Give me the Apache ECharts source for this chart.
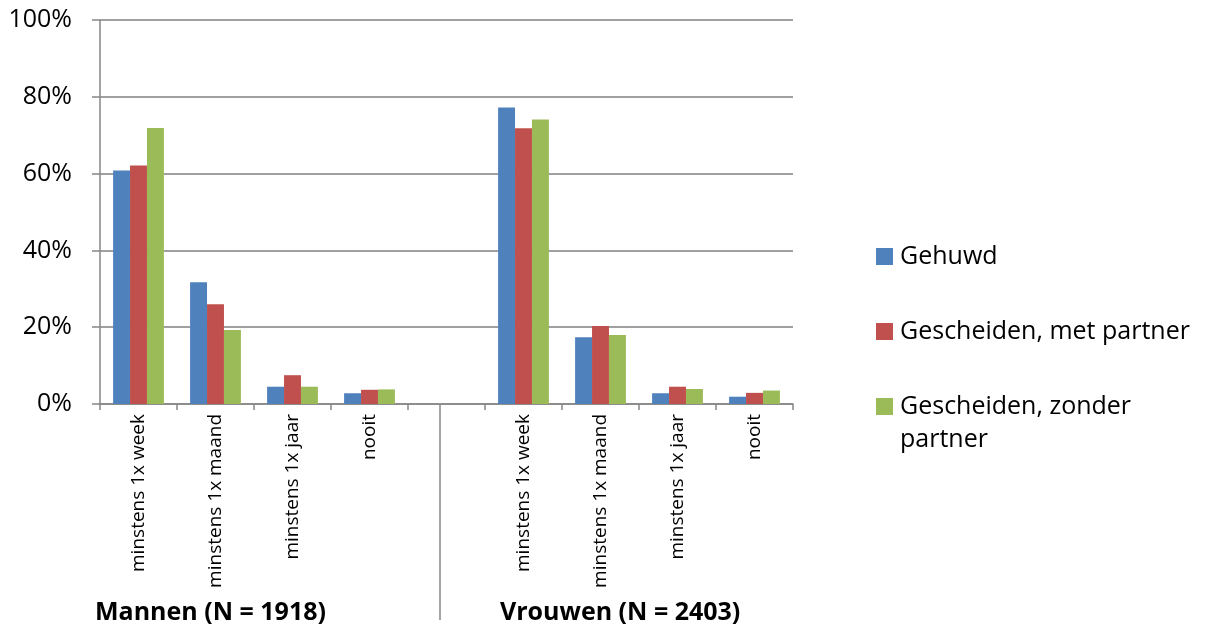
<!DOCTYPE html>
<html>
<head>
<meta charset="utf-8">
<script src="https://cdn.jsdelivr.net/npm/echarts@6/dist/echarts.min.js"></script>
<style>html,body{margin:0;padding:0;background:#fff}#c{width:1211px;height:627px}</style>
</head>
<body>
<div id="c"></div>
<script>
var categories = ['minstens 1x week','minstens 1x maand','minstens 1x jaar','nooit','','minstens 1x week ','minstens 1x maand ','minstens 1x jaar ','nooit '];
var yTicks = [0, 20, 40, 60, 80, 100];
var groupLabels = ['Mannen (N = 1918)', 'Vrouwen (N = 2403)'];
var seriesNames = ['Gehuwd', 'Gescheiden, met partner', 'Gescheiden, zonder partner'];
var gehuwd = [60.8, 31.7, 4.5, 2.8, null, 77.2, 17.4, 2.8, 1.9];
var metPartner = [62.1, 26.0, 7.5, 3.7, null, 71.8, 20.3, 4.5, 2.9];
var zonderPartner = [71.9, 19.3, 4.5, 3.8, null, 74.1, 18.0, 3.9, 3.5];
var colors = ['#4F81BD', '#C0504D', '#9BBB59'];

var chart = echarts.init(document.getElementById('c'));
var font = 'Open Sans';
var legendBase = {
  orient: 'vertical', left: 876, padding: 0, itemWidth: 17, itemHeight: 17, icon: 'rect',
  textStyle: {fontFamily: font, fontSize: 25, color: '#000', lineHeight: 33, padding: [0, 0, 0, 2]}
};
chart.setOption({
  animation: false,
  color: colors,
  grid: {left: 100, right: 418, top: 20, bottom: 223, containLabel: false},
  legend: [
    Object.assign({}, legendBase, {data: [seriesNames[0]], top: 240}),
    Object.assign({}, legendBase, {data: [seriesNames[1]], top: 315}),
    Object.assign({}, legendBase, {
      data: [seriesNames[2]],
      top: 357,
      formatter: function (n) { return '\nGescheiden, zonder\npartner'; }
    })
  ],
  xAxis: {
    type: 'category',
    data: categories,
    boundaryGap: true,
    axisLine: {lineStyle: {color: '#868686', width: 1.5}},
    axisTick: {show: true, length: 6, lineStyle: {color: '#868686', width: 1.5}},
    axisLabel: {
      rotate: 90, interval: 0, margin: 10,
      fontFamily: font, fontSize: 19, color: '#000',
      formatter: function (v) { return v.trim(); }
    },
    splitLine: {show: false}
  },
  yAxis: {
    type: 'value', min: 0, max: 100, interval: 20,
    axisLine: {show: true, lineStyle: {color: '#868686', width: 1.5}},
    axisTick: {show: true, length: 8, lineStyle: {color: '#868686', width: 1.5}},
    axisLabel: {
      margin: 28, fontFamily: font, fontSize: 25, color: '#000',
      formatter: function (v) { return yTicks.indexOf(v) >= 0 ? v + '%' : ''; }
    },
    splitLine: {show: true, lineStyle: {color: '#808080', width: 1.5}}
  },
  series: [
    {name: seriesNames[0], type: 'bar', data: gehuwd, barGap: '0%', barCategoryGap: '34%'},
    {name: seriesNames[1], type: 'bar', data: metPartner, barGap: '0%', barCategoryGap: '34%'},
    {name: seriesNames[2], type: 'bar', data: zonderPartner, barGap: '0%', barCategoryGap: '34%'}
  ],
  graphic: [
    {type: 'line', shape: {x1: 440, y1: 405, x2: 440, y2: 620}, style: {stroke: '#868686', lineWidth: 1.5}},
    {type: 'text', left: 95, top: 600, style: {text: groupLabels[0], font: 'bold 25px "Open Sans"', fill: '#000'}},
    {type: 'text', left: 500, top: 600, style: {text: groupLabels[1], font: 'bold 25px "Open Sans"', fill: '#000'}}
  ]
});
</script>
</body>
</html>
